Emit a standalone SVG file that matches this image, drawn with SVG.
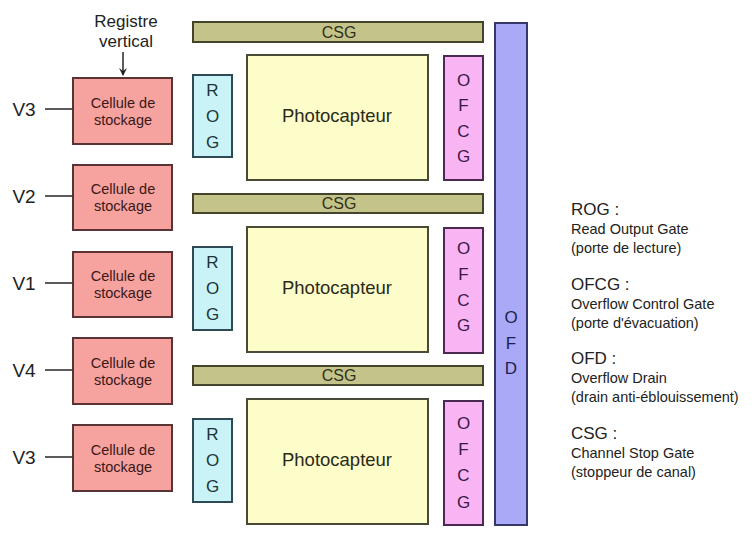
<svg xmlns="http://www.w3.org/2000/svg" width="754" height="534" viewBox="0 0 754 534">
<style>
text{font-family:"Liberation Sans",Arial,sans-serif;}
.cell rect{fill:#f6a29e;stroke:#5a3434;stroke-width:2}
.cell text{fill:#3a1818;font-size:14.5px;text-anchor:middle}
.rog rect{fill:#c9f3f7;stroke:#2e4a55;stroke-width:2}
.rog text{fill:#203438;font-size:17px;text-anchor:middle}
.photo rect{fill:#fdfdc9;stroke:#4a4a38;stroke-width:2}
.photo text{fill:#2a2a18;font-size:18.5px;text-anchor:middle}
.ofcg rect{fill:#f9b4f4;stroke:#4a2a50;stroke-width:2}
.ofcg text{fill:#3a1848;font-size:17px;text-anchor:middle}
.csg rect{fill:#c4c48a;stroke:#44442c;stroke-width:2}
.csg text{fill:#30301c;font-size:16px;text-anchor:middle}
.ofd rect{fill:#a9a9f7;stroke:#36366a;stroke-width:2}
.ofd text{fill:#1e1e50;font-size:17px;text-anchor:middle}
.vlab{fill:#222;font-size:19px;text-anchor:middle}
.conn line{stroke:#333;stroke-width:1.6}
.leg{fill:#222}
.lh{font-size:17px}
.ls{font-size:14.5px}
</style>
<defs>
<marker id="ah" markerWidth="8" markerHeight="8" refX="7" refY="4" orient="auto" markerUnits="userSpaceOnUse" viewBox="0 0 8 8">
<path d="M0,0 L8,4 L0,8 L3,4 Z" fill="#222"/>
</marker>
</defs>

<g id="registre">
<text x="126" y="27" font-size="17" fill="#222" text-anchor="middle">Registre</text>
<text x="126" y="47" font-size="17" fill="#222" text-anchor="middle">vertical</text>
</g>

<g id="cells">
<g id="cell1" class="cell"><rect x="73" y="78" width="99" height="66"/><text x="123" y="108">Cellule de</text><text x="123" y="125">stockage</text></g>
<g id="cell2" class="cell"><rect x="73" y="165" width="99" height="65"/><text x="123" y="194">Cellule de</text><text x="123" y="211">stockage</text></g>
<g id="cell3" class="cell"><rect x="73" y="252" width="99" height="65"/><text x="123" y="281">Cellule de</text><text x="123" y="298">stockage</text></g>
<g id="cell4" class="cell"><rect x="73" y="338" width="99" height="66"/><text x="123" y="368">Cellule de</text><text x="123" y="385">stockage</text></g>
<g id="cell5" class="cell"><rect x="73" y="425" width="99" height="66"/><text x="123" y="455">Cellule de</text><text x="123" y="472">stockage</text></g>
</g>

<g id="vlabels">
<text class="vlab" x="24" y="116">V3</text>
<text class="vlab" x="24" y="203">V2</text>
<text class="vlab" x="24" y="290">V1</text>
<text class="vlab" x="24" y="377">V4</text>
<text class="vlab" x="24" y="464">V3</text>
</g>

<g id="csg1" class="csg"><rect x="193" y="22" width="290" height="20"/><text x="339" y="38">CSG</text></g>
<g id="csg2" class="csg"><rect x="193" y="194" width="290" height="19"/><text x="339" y="209">CSG</text></g>
<g id="csg3" class="csg"><rect x="193" y="366" width="290" height="19"/><text x="339" y="381">CSG</text></g>

<g id="rog1" class="rog"><rect x="193" y="75" width="39" height="82"/><text x="212.5" y="96">R</text><text x="212.5" y="122">O</text><text x="212.5" y="148">G</text></g>
<g id="rog2" class="rog"><rect x="193" y="247" width="39" height="83"/><text x="212.5" y="268">R</text><text x="212.5" y="294">O</text><text x="212.5" y="320">G</text></g>
<g id="rog3" class="rog"><rect x="193" y="419" width="39" height="83"/><text x="212.5" y="440">R</text><text x="212.5" y="466">O</text><text x="212.5" y="492">G</text></g>

<g id="photo1" class="photo"><rect x="247" y="55" width="181" height="125"/><text x="337" y="122">Photocapteur</text></g>
<g id="photo2" class="photo"><rect x="247" y="227" width="181" height="125"/><text x="337" y="294">Photocapteur</text></g>
<g id="photo3" class="photo"><rect x="247" y="399" width="181" height="125"/><text x="337" y="466">Photocapteur</text></g>

<g id="ofcg1" class="ofcg"><rect x="444" y="56" width="39" height="124"/><text x="463.5" y="86">O</text><text x="463.5" y="111">F</text><text x="463.5" y="137">C</text><text x="463.5" y="162">G</text></g>
<g id="ofcg2" class="ofcg"><rect x="444" y="228" width="39" height="125"/><text x="463.5" y="254">O</text><text x="463.5" y="280">F</text><text x="463.5" y="306">C</text><text x="463.5" y="331">G</text></g>
<g id="ofcg3" class="ofcg"><rect x="444" y="401" width="39" height="124"/><text x="463.5" y="429">O</text><text x="463.5" y="455">F</text><text x="463.5" y="481">C</text><text x="463.5" y="508">G</text></g>

<g id="ofd" class="ofd"><rect x="495" y="23" width="32" height="502"/><text x="511" y="323">O</text><text x="511" y="349">F</text><text x="511" y="374">D</text></g>

<g id="connectors" class="conn">
<line x1="123" y1="52" x2="123" y2="75" marker-end="url(#ah)"/>
<line x1="45" y1="109" x2="73" y2="109"/>
<line x1="45" y1="196" x2="73" y2="196"/>
<line x1="45" y1="283" x2="73" y2="283"/>
<line x1="45" y1="370" x2="73" y2="370"/>
<line x1="45" y1="457" x2="73" y2="457"/>
</g>

<g id="legend" class="leg">
<text class="lh" x="571" y="215">ROG :</text>
<text class="ls" x="571" y="234">Read Output Gate</text>
<text class="ls" x="571" y="253">(porte de lecture)</text>
<text class="lh" x="571" y="290">OFCG :</text>
<text class="ls" x="571" y="309">Overflow Control Gate</text>
<text class="ls" x="571" y="328">(porte d'évacuation)</text>
<text class="lh" x="571" y="364">OFD :</text>
<text class="ls" x="571" y="383">Overflow Drain</text>
<text class="ls" x="571" y="402">(drain anti-éblouissement)</text>
<text class="lh" x="571" y="439">CSG :</text>
<text class="ls" x="571" y="458">Channel Stop Gate</text>
<text class="ls" x="571" y="477">(stoppeur de canal)</text>
</g>
</svg>
